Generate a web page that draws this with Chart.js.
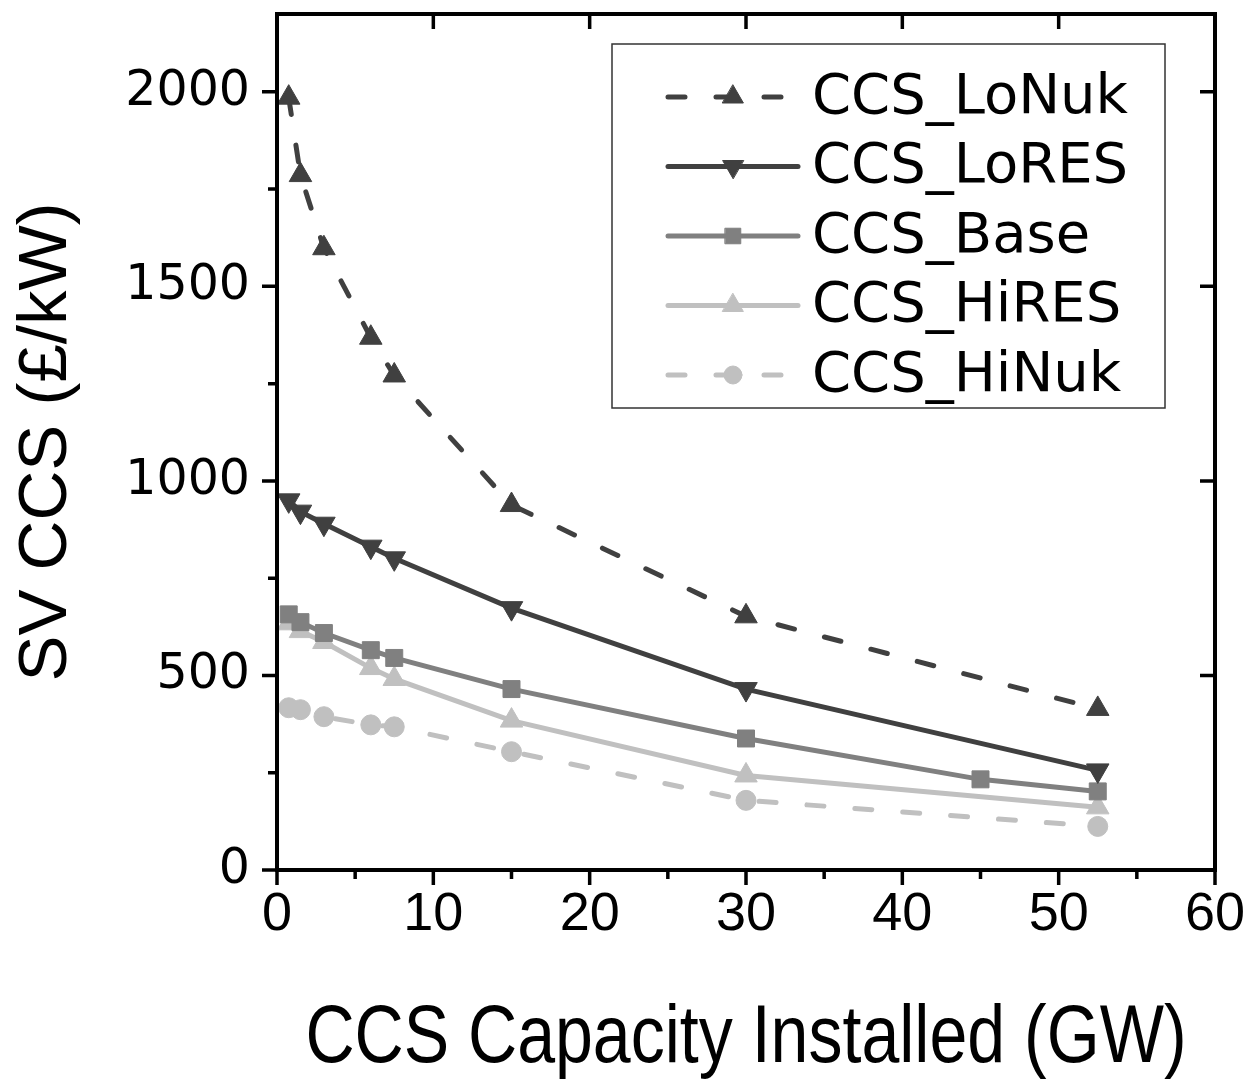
<!DOCTYPE html>
<html>
<head>
<meta charset="utf-8">
<script src="https://cdn.jsdelivr.net/npm/chart.js@4.4.1/dist/chart.umd.min.js"></script>
<style>
  html, body { margin:0; padding:0; background:#fff; }
  #wrap { width:1250px; height:1080px; }
</style>
</head>
<body>
<div id="wrap"><canvas id="svChart" width="1250" height="1080"></canvas></div>
<script>
/* ── data ── */
const X_MAIN = [0.75, 1.5, 3, 6, 7.5, 15, 30, 52.5];
const X_BASE = [0.75, 1.5, 3, 6, 7.5, 15, 30, 45, 52.5];

const LONUK = [1985, 1786, 1598, 1368, 1271, 938, 652, 414];
const LORES = [950, 921, 890, 831, 801, 673, 465, 256];
const BASE  = [657, 637, 609, 565, 545, 465, 338, 233, 202];
const HIRES = [634, 614, 586, 519, 491, 384, 243, 161];
const HINUK = [417, 412, 394, 373, 368, 304, 179, 112];

const SERIES_LABELS = ['CCS_LoNuk', 'CCS_LoRES', 'CCS_Base', 'CCS_HiRES', 'CCS_HiNuk'];
const X_TITLE = 'CCS Capacity Installed (GW)';
const Y_TITLE = 'SV CCS (£/kW)';

const X_MAJOR = [0, 10, 20, 30, 40, 50, 60];
const X_MINOR = [5, 15, 25, 35, 45, 55];
const Y_MAJOR = [0, 500, 1000, 1500, 2000];
const Y_MINOR = [250, 750, 1250, 1750];

const DARK = '#404040', MID = '#808080', LIGHT = '#c0c0c0';
const DASH = [17, 31];

const pts = (xs, ys) => xs.map((x, i) => ({ x, y: ys[i] }));

function series(label, xs, ys, color, style, radius, dash, rot) {
  return {
    label, data: pts(xs, ys),
    borderColor: color, backgroundColor: color,
    borderWidth: 5, borderDash: dash || [], borderCapStyle: 'round', tension: 0,
    pointStyle: style, pointRadius: radius, pointRotation: rot || 0,
    pointBackgroundColor: color, pointBorderColor: color, pointBorderWidth: 1,
    pointHoverRadius: radius
  };
}

/* ── frame + ticks (box on all four sides) ── */
const framePlugin = {
  id: 'frame',
  afterDatasetsDraw(chart) {
    const { ctx, chartArea: a, scales: { x, y } } = chart;
    ctx.save();
    ctx.strokeStyle = '#000';
    ctx.lineCap = 'butt';
    ctx.lineWidth = 4;
    ctx.beginPath();
    ctx.moveTo(a.left, a.top); ctx.lineTo(a.right, a.top);
    ctx.moveTo(a.right, a.top - 2); ctx.lineTo(a.right, a.bottom + 2);
    ctx.moveTo(a.left, a.top - 2); ctx.lineTo(a.left, a.bottom + 2);
    ctx.moveTo(a.left - 2, a.bottom); ctx.lineTo(a.right + 2, a.bottom);
    ctx.stroke();
    ctx.lineWidth = 3.5;
    ctx.beginPath();
    X_MAJOR.forEach(v => {
      const px = x.getPixelForValue(v);
      ctx.moveTo(px, a.bottom); ctx.lineTo(px, a.bottom + 15);
      ctx.moveTo(px, a.top); ctx.lineTo(px, a.top + 15);
    });
    X_MINOR.forEach(v => {
      const px = x.getPixelForValue(v);
      ctx.moveTo(px, a.bottom); ctx.lineTo(px, a.bottom + 9);
    });
    Y_MAJOR.forEach(v => {
      const py = y.getPixelForValue(v);
      ctx.moveTo(a.left - 15, py); ctx.lineTo(a.left, py);
      ctx.moveTo(a.right - 15, py); ctx.lineTo(a.right, py);
    });
    Y_MINOR.forEach(v => {
      const py = y.getPixelForValue(v);
      ctx.moveTo(a.left - 9, py); ctx.lineTo(a.left, py);
    });
    ctx.stroke();
    ctx.restore();
  }
};

/* ── condensed x-axis title ── */
const xTitlePlugin = {
  id: 'xTitle',
  afterDraw(chart) {
    const { ctx, chartArea: a } = chart;
    ctx.save();
    ctx.fillStyle = '#000';
    ctx.font = '82px "Liberation Sans"';
    ctx.textAlign = 'center';
    ctx.textBaseline = 'alphabetic';
    ctx.translate((a.left + a.right) / 2, 1062);
    ctx.scale(0.83, 1);
    ctx.fillText(X_TITLE, 0, 0);
    ctx.restore();
  }
};

/* ── boxed legend inside the plot ── */
const legendBox = {
  id: 'legendBox',
  afterDraw(chart) {
    const { ctx } = chart;
    const box = { l: 612, t: 44, r: 1165, b: 408 };
    ctx.save();
    ctx.strokeStyle = '#333';
    ctx.lineWidth = 1.5;
    ctx.strokeRect(box.l, box.t, box.r - box.l, box.b - box.t);
    chart.data.datasets.forEach((ds, i) => {
      const yRow = 97 + i * 69.5;
      ctx.save();
      ctx.strokeStyle = ds.borderColor;
      ctx.lineWidth = ds.borderWidth;
      ctx.lineCap = 'round';
      ctx.setLineDash(ds.borderDash);
      ctx.beginPath();
      ctx.moveTo(668, yRow); ctx.lineTo(798, yRow);
      ctx.stroke();
      ctx.setLineDash([]);
      ctx.fillStyle = ds.pointBackgroundColor;
      ctx.strokeStyle = ds.pointBorderColor;
      ctx.lineWidth = ds.pointBorderWidth;
      Chart.helpers.drawPoint(ctx, {
        pointStyle: ds.pointStyle, rotation: ds.pointRotation,
        radius: ds.pointRadius - 1, borderWidth: ds.pointBorderWidth
      }, 733, yRow);
      ctx.restore();
      ctx.fillStyle = '#000';
      ctx.font = '56px "DejaVu Sans"';
      ctx.textBaseline = 'middle';
      ctx.textAlign = 'left';
      ctx.fillText(ds.label, 812, yRow + 1);
    });
    ctx.restore();
  }
};

function buildChart() {
  const ctx = document.getElementById('svChart').getContext('2d');
  new Chart(ctx, {
    type: 'line',
    data: {
      datasets: [
        series(SERIES_LABELS[0], X_MAIN, LONUK, DARK, 'triangle', 13, DASH),
        series(SERIES_LABELS[1], X_MAIN, LORES, DARK, 'triangle', 13, null, 180),
        series(SERIES_LABELS[2], X_BASE, BASE, MID, 'rect', 12),
        series(SERIES_LABELS[3], X_MAIN, HIRES, LIGHT, 'triangle', 13),
        series(SERIES_LABELS[4], X_MAIN, HINUK, LIGHT, 'circle', 10, DASH)
      ]
    },
    options: {
      responsive: false, animation: false, devicePixelRatio: 1,
      layout: { padding: { left: 0, right: 35, top: 12, bottom: 0 } },
      plugins: { legend: { display: false }, tooltip: { enabled: false } },
      scales: {
        x: {
          type: 'linear', min: 0, max: 60,
          afterBuildTicks: s => { s.ticks = X_MAJOR.map(v => ({ value: v })); },
          grid: { display: false, drawTicks: true, tickLength: 15 },
          border: { display: false },
          ticks: {
            maxRotation: 0, padding: 3, color: '#000', autoSkip: false,
            callback: v => String(v),
            font: { family: '"Liberation Sans"', size: 54, lineHeight: 1 }
          },
          title: { display: false },
          afterFit: s => { s.height = 210; s.paddingLeft = 0; s.paddingRight = 0; }
        },
        y: {
          type: 'linear', min: 0, max: 2200,
          afterBuildTicks: s => { s.ticks = Y_MAJOR.map(v => ({ value: v })); },
          grid: { display: false, drawTicks: true, tickLength: 15 },
          border: { display: false },
          ticks: {
            padding: 12, color: '#000', autoSkip: false,
            callback: v => String(v),
            font: { family: '"DejaVu Sans"', size: 49, lineHeight: 1 }
          },
          title: {
            display: true, text: Y_TITLE, color: '#000',
            font: { family: '"Liberation Sans"', size: 69, lineHeight: 1 },
            padding: { top: 12, bottom: 0 }
          },
          afterFit: s => { s.width = 277; s.paddingTop = 0; s.paddingBottom = 0; }
        }
      }
    },
    plugins: [framePlugin, xTitlePlugin, legendBox]
  });
}

window.addEventListener('DOMContentLoaded', buildChart);
</script>
</body>
</html>
